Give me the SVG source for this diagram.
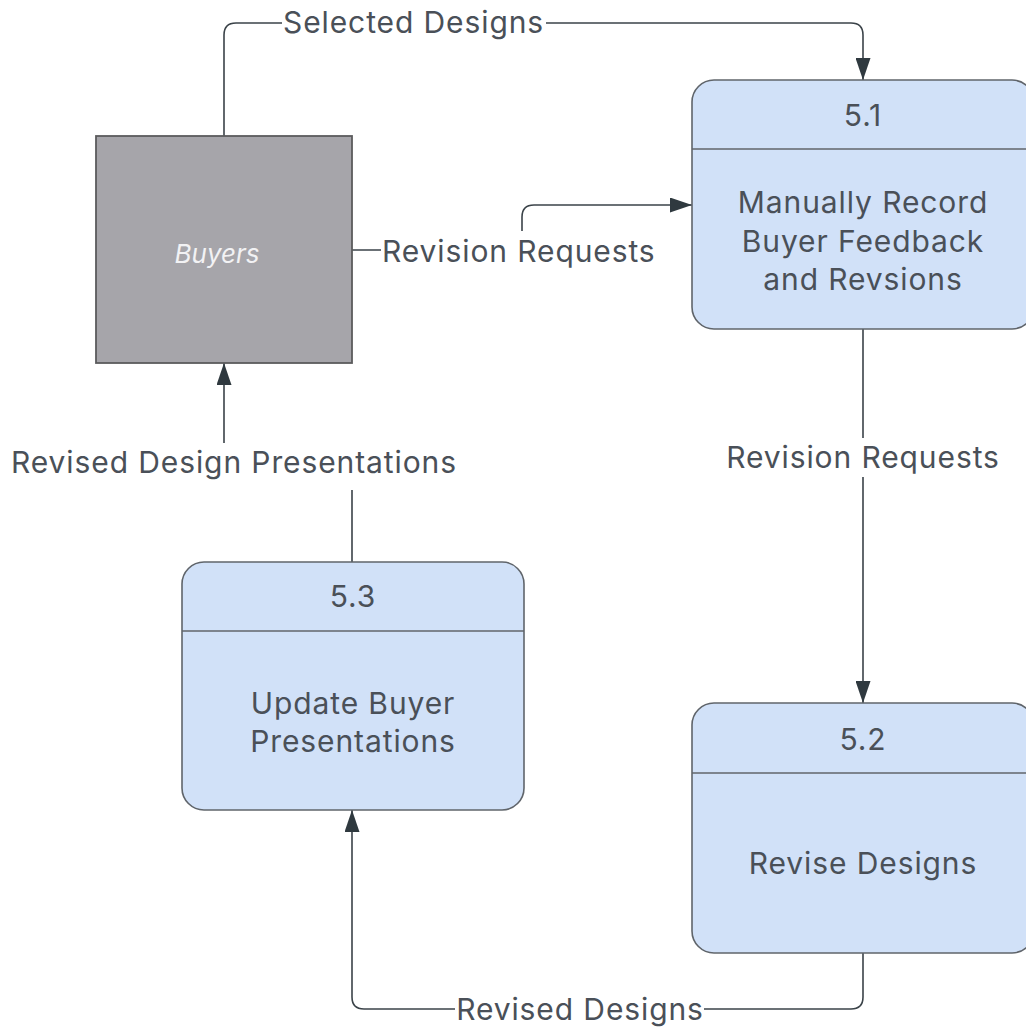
<svg xmlns="http://www.w3.org/2000/svg" width="1026" height="1030" viewBox="0 0 1026 1030">
<style>
.proc{fill:#d1e1f8;stroke:#60656b;stroke-width:1.6}
.div{stroke:#60656b;stroke-width:1.6}
.t{font-family:Inter,"Liberation Sans",sans-serif;font-size:30px;letter-spacing:0.9px;fill:#4a5058;text-anchor:middle}
.lbl{font-family:Inter,"Liberation Sans",sans-serif;font-size:30px;letter-spacing:0.9px;fill:#4a5058}
.conn{fill:none;stroke:#3b4349;stroke-width:1.6}
</style>
<defs>
<marker id="arr" viewBox="0 0 22 15" refX="22" refY="7.5" markerWidth="22" markerHeight="15" markerUnits="userSpaceOnUse" orient="auto">
<path d="M0,0 L22,7.5 L0,15 Z" fill="#2f393f"/>
</marker>
</defs>
<g id="connectors">
<path class="conn" d="M224,136 V35 Q224,23 236,23 H282 M546,23 H851 Q863,23 863,35 V80" marker-end="url(#arr)"/>
<path class="conn" d="M352,250 H381 M522,231 V217 Q522,205 534,205 H692" marker-end="url(#arr)"/>
<path class="conn" d="M863,329 V438 M863,477 V703" marker-end="url(#arr)"/>
<path class="conn" d="M863,953 V997 Q863,1009 851,1009 H704 M455,1009 H364 Q352,1009 352,997 V810" marker-end="url(#arr)"/>
<path class="conn" d="M352,563 V490 M224,443 V363" marker-end="url(#arr)"/>
<text class="lbl" x="283" y="33">Selected Designs</text>
<text class="lbl" x="382" y="262">Revision Requests</text>
<text class="lbl" x="863" y="468" text-anchor="middle">Revision Requests</text>
<text class="lbl" x="580" y="1020" text-anchor="middle">Revised Designs</text>
<text class="lbl" x="234" y="473" text-anchor="middle">Revised Design Presentations</text>
</g>
<g id="buyers">
<rect x="96" y="136" width="256" height="227" fill="#a6a5aa" stroke="#5b5b5d" stroke-width="1.8"/>
<text x="217" y="263" font-family="Inter,'Liberation Sans',sans-serif" font-size="26" font-style="italic" fill="#f2f2f4" text-anchor="middle">Buyers</text>
</g>
<g id="p51">
<rect class="proc" x="692" y="80" width="342" height="249" rx="22"/>
<line class="div" x1="692" y1="149" x2="1034" y2="149"/>
<text class="t" x="863" y="126">5.1</text>
<text class="t" x="863" y="213">Manually Record</text>
<text class="t" x="863" y="252">Buyer Feedback</text>
<text class="t" x="863" y="290">and Revsions</text>
</g>
<g id="p52">
<rect class="proc" x="692" y="703" width="342" height="250" rx="22"/>
<line class="div" x1="692" y1="773" x2="1034" y2="773"/>
<text class="t" x="863" y="750">5.2</text>
<text class="t" x="863" y="874">Revise Designs</text>
</g>
<g id="p53">
<rect class="proc" x="182" y="562" width="342" height="248" rx="22"/>
<line class="div" x1="182" y1="631" x2="524" y2="631"/>
<text class="t" x="353" y="607">5.3</text>
<text class="t" x="353" y="714">Update Buyer</text>
<text class="t" x="353" y="752">Presentations</text>
</g>
</svg>
